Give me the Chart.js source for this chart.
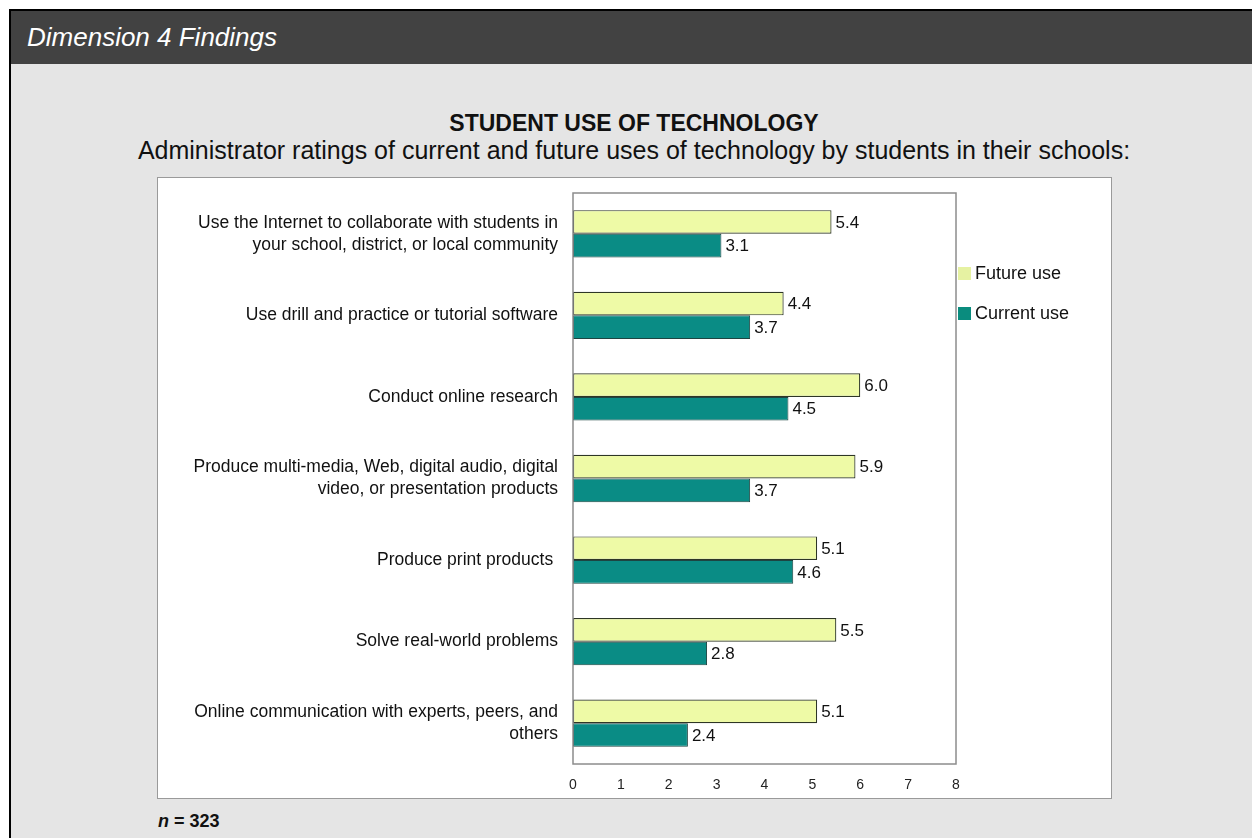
<!DOCTYPE html>
<html>
<head>
<meta charset="utf-8">
<script src="https://cdn.jsdelivr.net/npm/chart.js@4.4.0/dist/chart.umd.min.js"></script>
<style>
  html, body { margin: 0; padding: 0; background: #fff; }
  body { width: 1252px; height: 838px; overflow: hidden; position: relative; font-family: "Liberation Sans", Arial, sans-serif; }
  #frame { position: absolute; left: 9px; top: 9px; right: 0; bottom: 0; border-left: 2px solid #000; border-top: 2px solid #000; background: #e5e5e5; }
  #header { position: absolute; left: 0; top: 0; right: 0; height: 53px; background: #424242; color: #fff; font-style: italic; font-size: 26px; line-height: 53px; padding-left: 16px; }
  #title { position: absolute; left: 0; width: 1268px; top: 109px; text-align: center; font-weight: bold; font-size: 23px; line-height: 28px; color: #111; }
  #subtitle { position: absolute; left: 0; width: 1268px; top: 135px; text-align: center; font-size: 25px; line-height: 30px; color: #111; }
  #panel { position: absolute; left: 157px; top: 177px; width: 953px; height: 620px; background: #fff; border: 1px solid #9a9a9a; }
  #n { position: absolute; left: 158px; top: 811px; font-size: 18px; font-weight: bold; color: #111; }
</style>
</head>
<body>
<div id="frame"><div id="header">Dimension 4 Findings</div></div>
<div id="title">STUDENT USE OF TECHNOLOGY</div>
<div id="subtitle">Administrator ratings of current and future uses of technology by students in their schools:</div>
<div id="panel"><canvas id="chart" width="953" height="620"></canvas></div>
<div id="n"><i>n</i> = 323</div>
<script>
const categories = [
    ['Use the Internet to collaborate with students in', 'your school, district, or local community'],
    'Use drill and practice or tutorial software',
    'Conduct online research',
    ['Produce multi-media, Web, digital audio, digital', 'video, or presentation products'],
    'Produce print products ',
    'Solve real-world problems',
    ['Online communication with experts, peers, and', 'others']
];
const futureUse = [5.4, 4.4, 6.0, 5.9, 5.1, 5.5, 5.1];
const currentUse = [3.1, 3.7, 4.5, 3.7, 4.6, 2.8, 2.4];
const xTicks = [0, 1, 2, 3, 4, 5, 6, 7, 8];

const FONT = '"Liberation Sans", Arial, sans-serif';

// frame round the plot area
const frame = {
    id: 'frame',
    afterDraw(chart) {
        const a = chart.chartArea, ctx = chart.ctx;
        ctx.save();
        ctx.strokeStyle = '#8c8c8c';
        ctx.lineWidth = 1.5;
        ctx.strokeRect(a.left, a.top, a.right - a.left, a.bottom - a.top);
        ctx.restore();
    }
};

// value labels at the end of each bar
const valueLabels = {
    id: 'valueLabels',
    afterDatasetsDraw(chart) {
        const ctx = chart.ctx;
        ctx.save();
        ctx.font = '17px ' + FONT;
        ctx.fillStyle = '#111';
        ctx.textBaseline = 'middle';
        ctx.textAlign = 'left';
        chart.data.datasets.forEach((ds, i) => {
            chart.getDatasetMeta(i).data.forEach((el, j) => {
                ctx.fillText(ds.data[j].toFixed(1), el.x + 4, el.y + 1);
            });
        });
        ctx.restore();
    }
};

// legend to the right of the plot
const sideLegend = {
    id: 'sideLegend',
    afterDraw(chart) {
        const a = chart.chartArea, ctx = chart.ctx;
        ctx.save();
        ctx.font = '18px ' + FONT;
        ctx.textBaseline = 'middle';
        chart.data.datasets.forEach((ds, i) => {
            const y = 95 + i * 40;
            ctx.fillStyle = ds.legendColor;
            ctx.fillRect(a.right + 2, y - 6, 13, 13);
            ctx.fillStyle = '#111';
            ctx.fillText(ds.label, a.right + 19, y + 1);
        });
        ctx.restore();
    }
};

new Chart(document.getElementById('chart'), {
    type: 'bar',
    data: {
        labels: categories,
        datasets: [{
            label: 'Future use',
            data: futureUse,
            backgroundColor: '#eefaa6',
            legendColor: '#e6f2a2',
            borderColor: '#2e3626',
            borderWidth: 1.2,
            borderSkipped: false
        }, {
            label: 'Current use',
            data: currentUse,
            backgroundColor: '#0a8c85',
            legendColor: '#0a8c7e',
            borderColor: '#1d4542',
            borderWidth: 1,
            borderSkipped: false
        }]
    },
    options: {
        indexAxis: 'y',
        responsive: false,
        animation: false,
        layout: { padding: { left: 0, right: 155, top: 15, bottom: 0 } },
        categoryPercentage: 0.58,
        barPercentage: 1.0,
        plugins: {
            legend: { display: false },
            tooltip: { enabled: false }
        },
        scales: {
            x: {
                min: 0,
                max: 8,
                afterBuildTicks(scale) { scale.ticks = xTicks.map(v => ({ value: v })); },
                afterFit(scale) { scale.height = 34; scale.paddingLeft = 0; scale.paddingRight = 0; },
                grid: { display: false, drawTicks: false },
                border: { display: false },
                ticks: { font: { family: FONT, size: 14 }, color: '#222', padding: 13 }
            },
            y: {
                afterFit(scale) { scale.width = 415; scale.paddingTop = 0; scale.paddingBottom = 0; },
                grid: { display: false, drawTicks: false },
                border: { display: false },
                ticks: { font: { family: FONT, size: 17.5, lineHeight: 1.25 }, color: '#111', padding: 15 }
            }
        }
    },
    plugins: [frame, valueLabels, sideLegend]
});
</script>
</body>
</html>
